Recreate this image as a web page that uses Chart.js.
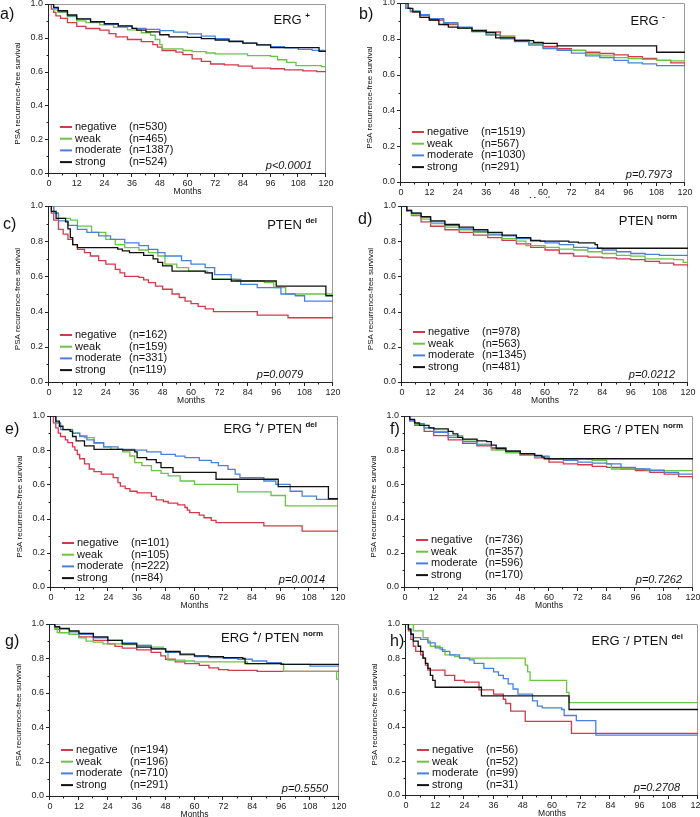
<!DOCTYPE html>
<html>
<head>
<meta charset="utf-8">
<script src="https://cdn.jsdelivr.net/npm/chart.js@4.4.1/dist/chart.umd.min.js"></script>
<style>
  html, body { margin: 0; padding: 0; background: #fff; }
  #fig { position: relative; width: 700px; height: 817px; overflow: hidden; }
  #fig canvas { position: absolute; background: #fff; }
</style>
</head>
<body>
<div id="fig"></div>
<script>
// categories + axis ticks
const GROUPS = ["negative", "weak", "moderate", "strong"];
const X_TICKS = [0, 12, 24, 36, 48, 60, 72, 84, 96, 108, 120];
const Y_TICKS = [0, 0.2, 0.4, 0.6, 0.8, 1.0];

// Kaplan-Meier curves as [month, survival]
// a) ERG+
const A_NEG = [[0,1],[1,0.97],[2,0.95],[3,0.93],[5,0.915],[8,0.89],[12,0.868],[16,0.855],[22,0.845],[26,0.825],[29,0.805],[34,0.79],[40,0.777],[45,0.76],[47,0.745],[49,0.725],[55,0.715],[58,0.7],[62,0.675],[66,0.66],[70,0.645],[76,0.64],[82,0.632],[88,0.62],[96,0.617],[102,0.61],[110,0.604],[116,0.6],[120,0.598]];
const A_WEAK = [[0,1],[2,0.965],[4,0.95],[8,0.925],[12,0.9],[16,0.89],[22,0.876],[28,0.862],[34,0.847],[40,0.83],[44,0.815],[46,0.79],[48,0.76],[49,0.735],[58,0.725],[62,0.718],[68,0.71],[72,0.705],[86,0.695],[96,0.69],[99,0.67],[103,0.655],[107,0.635],[118,0.63],[120,0.615]];
const A_MOD = [[0,1],[2,0.975],[4,0.955],[8,0.93],[12,0.91],[18,0.895],[24,0.88],[30,0.868],[36,0.856],[42,0.85],[48,0.843],[54,0.833],[60,0.823],[66,0.81],[72,0.795],[78,0.78],[84,0.768],[90,0.758],[96,0.748],[102,0.74],[108,0.732],[114,0.726],[120,0.72]];
const A_STR = [[0,1],[2,0.98],[4,0.96],[8,0.935],[12,0.912],[18,0.895],[24,0.883],[30,0.87],[36,0.856],[38,0.845],[42,0.835],[48,0.818],[52,0.805],[60,0.803],[66,0.795],[72,0.787],[78,0.778],[84,0.768],[90,0.758],[96,0.742],[116,0.742],[117,0.72],[120,0.72]];
// b) ERG-
const B_NEG = [[0,1],[2,0.97],[4,0.95],[8,0.93],[12,0.905],[18,0.88],[24,0.86],[30,0.848],[36,0.838],[42,0.815],[48,0.795],[54,0.775],[60,0.757],[66,0.745],[72,0.735],[78,0.725],[84,0.718],[90,0.71],[96,0.7],[102,0.69],[108,0.68],[114,0.665],[120,0.655]];
const B_WEAK = [[0,1],[2,0.97],[4,0.955],[8,0.935],[12,0.91],[18,0.885],[24,0.86],[30,0.84],[36,0.825],[42,0.81],[48,0.795],[54,0.77],[60,0.75],[66,0.74],[72,0.735],[78,0.715],[84,0.705],[90,0.695],[96,0.69],[102,0.685],[108,0.68],[114,0.677],[120,0.675]];
const B_MOD = [[0,1],[2,0.97],[4,0.955],[8,0.935],[12,0.912],[18,0.89],[24,0.865],[30,0.84],[36,0.82],[42,0.8],[48,0.785],[54,0.765],[60,0.745],[66,0.735],[72,0.72],[78,0.705],[84,0.695],[90,0.68],[96,0.665],[102,0.66],[108,0.65],[120,0.648]];
const B_STR = [[0,1],[3,0.97],[5,0.95],[8,0.92],[12,0.905],[16,0.88],[20,0.865],[24,0.86],[30,0.845],[36,0.835],[40,0.805],[48,0.79],[56,0.78],[60,0.775],[66,0.76],[107,0.76],[108,0.725],[120,0.725]];
// c) PTEN del
const C_NEG = [[0,1],[1,0.96],[2,0.92],[4,0.867],[6,0.84],[8,0.81],[10,0.78],[12,0.754],[15,0.735],[17.5,0.716],[21,0.69],[24,0.67],[28,0.64],[30,0.62],[32,0.6],[38,0.595],[40,0.58],[42,0.565],[45,0.545],[48,0.527],[52,0.5],[55,0.48],[57.5,0.46],[60,0.445],[63,0.43],[66,0.415],[69.5,0.4],[88,0.38],[101,0.365],[120,0.365]];
const C_WEAK = [[0,1],[2,0.96],[4,0.93],[9,0.92],[12,0.886],[18,0.85],[24,0.81],[28,0.78],[32,0.763],[38,0.75],[42,0.735],[46,0.716],[49,0.67],[54,0.65],[59,0.63],[67,0.62],[69,0.585],[79,0.575],[91,0.565],[95,0.536],[100,0.5],[120,0.495]];
const C_MOD = [[0,1],[2,0.96],[4,0.915],[8,0.89],[12,0.867],[16,0.85],[21,0.83],[26,0.81],[32,0.79],[38,0.775],[42,0.754],[46,0.735],[49,0.716],[56,0.69],[60,0.67],[66,0.65],[70,0.61],[77,0.583],[81,0.555],[88,0.536],[98,0.5],[104,0.49],[108,0.46],[120,0.46]];
const C_STR = [[0,1],[1,0.97],[3,0.93],[7,0.91],[8,0.87],[9,0.82],[10,0.78],[12,0.763],[29,0.755],[31,0.745],[34,0.735],[40,0.72],[44,0.7],[46,0.68],[48,0.66],[52,0.63],[66,0.62],[69,0.583],[77,0.574],[95,0.574],[96,0.545],[116,0.545],[117,0.49],[120,0.49]];
// d) PTEN norm
const D_NEG = [[0,1],[2,0.97],[4,0.945],[8,0.91],[12,0.885],[18,0.865],[24,0.85],[30,0.835],[36,0.82],[42,0.805],[48,0.785],[54,0.765],[60,0.75],[66,0.73],[72,0.715],[78,0.71],[84,0.705],[90,0.7],[96,0.695],[102,0.685],[108,0.675],[114,0.665],[120,0.652]];
const D_WEAK = [[0,1],[2,0.97],[4,0.95],[8,0.925],[12,0.9],[18,0.88],[24,0.865],[30,0.85],[36,0.835],[42,0.815],[48,0.8],[52,0.775],[60,0.765],[66,0.755],[72,0.75],[78,0.74],[84,0.73],[90,0.72],[96,0.715],[102,0.7],[114,0.695],[118,0.68],[120,0.678]];
const D_MOD = [[0,1],[2,0.975],[4,0.96],[8,0.935],[12,0.91],[18,0.89],[24,0.87],[30,0.855],[36,0.84],[42,0.83],[48,0.815],[54,0.8],[60,0.79],[66,0.78],[72,0.765],[78,0.76],[84,0.75],[90,0.74],[96,0.73],[102,0.725],[108,0.72],[120,0.716]];
const D_STR = [[0,1],[2,0.975],[4,0.96],[8,0.94],[12,0.915],[18,0.895],[24,0.88],[30,0.865],[36,0.85],[42,0.835],[48,0.82],[54,0.805],[58,0.8],[70,0.795],[74,0.79],[81,0.78],[82,0.76],[120,0.76]];
// e) ERG+/PTEN del
const E_NEG = [[0,1],[1,0.96],[2,0.93],[3,0.9],[4,0.88],[6,0.86],[7,0.844],[9,0.82],[10,0.8],[11,0.775],[12,0.75],[14,0.72],[16,0.69],[18,0.675],[21,0.66],[26,0.64],[28,0.61],[29,0.59],[31,0.575],[33,0.56],[36,0.55],[42,0.53],[44,0.51],[47,0.5],[49,0.49],[53,0.48],[56,0.465],[57,0.45],[58,0.435],[62,0.42],[64,0.405],[67,0.39],[69,0.376],[89,0.357],[105,0.327],[120,0.327]];
const E_WEAK = [[0,1],[2,0.96],[4,0.922],[9,0.9],[12,0.88],[14,0.873],[18,0.84],[22,0.82],[25,0.805],[30,0.79],[33,0.766],[35,0.727],[38,0.71],[42,0.68],[46,0.665],[49,0.65],[54,0.62],[60,0.6],[78,0.556],[92,0.535],[98,0.474],[120,0.474]];
const E_MOD = [[0,1],[2,0.96],[4,0.92],[9,0.9],[12,0.883],[15,0.86],[18,0.844],[22,0.82],[28,0.805],[35,0.8],[40,0.79],[46,0.776],[52,0.765],[56,0.756],[62,0.74],[67,0.727],[70,0.71],[74,0.688],[77,0.66],[79,0.64],[89,0.62],[94,0.6],[100,0.56],[105,0.532],[111,0.513],[120,0.513]];
const E_STR = [[0,1],[2,0.97],[3.5,0.94],[5,0.92],[8,0.91],[9,0.88],[10.5,0.854],[14,0.825],[18,0.805],[30,0.8],[35,0.79],[36,0.756],[40,0.745],[44,0.727],[46,0.698],[51,0.67],[69,0.63],[95,0.587],[116,0.516],[120,0.516]];
// f) ERG-/PTEN norm
const F_NEG = [[0,1],[2,0.97],[4,0.945],[8,0.91],[12,0.885],[18,0.86],[24,0.84],[30,0.825],[36,0.81],[42,0.795],[48,0.775],[54,0.755],[60,0.73],[66,0.72],[72,0.715],[78,0.705],[84,0.7],[90,0.69],[96,0.68],[102,0.67],[108,0.66],[114,0.645],[120,0.63]];
const F_WEAK = [[0,1],[2,0.97],[4,0.95],[8,0.93],[12,0.91],[18,0.885],[24,0.86],[30,0.835],[36,0.8],[42,0.785],[48,0.77],[54,0.76],[60,0.75],[76,0.748],[78,0.74],[84,0.72],[86,0.69],[100,0.685],[108,0.68],[120,0.68]];
const F_MOD = [[0,1],[2,0.975],[4,0.955],[8,0.93],[12,0.905],[18,0.875],[24,0.85],[30,0.83],[36,0.815],[42,0.795],[48,0.78],[54,0.765],[60,0.75],[66,0.74],[72,0.73],[78,0.725],[84,0.72],[90,0.7],[96,0.69],[102,0.68],[108,0.67],[114,0.66],[120,0.655]];
const F_STR = [[0,1],[2,0.98],[4,0.96],[6,0.945],[10,0.93],[12,0.925],[18,0.91],[20,0.895],[22,0.875],[24,0.865],[30,0.855],[34,0.85],[36,0.83],[38,0.81],[42,0.795],[48,0.78],[54,0.77],[57,0.76],[58,0.75],[120,0.75]];
// g) ERG+/PTEN norm
const G_NEG = [[0,1],[2,0.97],[4,0.95],[8,0.94],[12,0.925],[18,0.905],[24,0.885],[27,0.87],[30,0.86],[36,0.85],[42,0.835],[46,0.815],[48,0.795],[52,0.78],[56,0.77],[62,0.76],[66,0.745],[70,0.735],[74,0.73],[84,0.73],[86,0.725],[120,0.725]];
const G_WEAK = [[0,1],[2,0.975],[3,0.95],[8,0.94],[12,0.92],[15,0.9],[18,0.895],[22,0.885],[30,0.88],[36,0.875],[42,0.865],[47,0.855],[48,0.835],[49,0.79],[56,0.785],[60,0.78],[80,0.78],[82,0.77],[96,0.77],[97,0.725],[118,0.725],[119,0.68],[120,0.68]];
const G_MOD = [[0,1],[2,0.98],[4,0.97],[8,0.955],[12,0.94],[18,0.92],[24,0.905],[30,0.89],[36,0.875],[42,0.855],[48,0.835],[54,0.82],[60,0.81],[66,0.805],[72,0.8],[78,0.795],[84,0.785],[90,0.775],[96,0.765],[102,0.765],[108,0.755],[120,0.755]];
const G_STR = [[0,1],[2,0.985],[4,0.975],[8,0.96],[12,0.945],[18,0.925],[24,0.905],[30,0.885],[36,0.865],[42,0.855],[48,0.84],[54,0.825],[60,0.815],[66,0.81],[72,0.805],[80,0.8],[81,0.77],[96,0.765],[120,0.765]];
// h) ERG-/PTEN del
const H_NEG = [[0,1],[1,0.96],[2,0.91],[3,0.87],[4,0.84],[6,0.82],[7,0.8],[8,0.76],[9,0.73],[16,0.7],[20,0.67],[24,0.66],[30,0.615],[36,0.59],[40,0.56],[41,0.535],[43,0.49],[49,0.43],[68,0.36],[120,0.36]];
const H_WEAK = [[0,1],[2,1],[3,0.96],[6,0.96],[7,0.92],[9,0.9],[10,0.87],[14,0.85],[16,0.82],[20,0.81],[22,0.8],[48,0.8],[49,0.76],[50,0.72],[51,0.67],[65,0.67],[66,0.6],[67,0.54],[120,0.54]];
const H_MOD = [[0,1],[1,0.97],[2,0.94],[3,0.92],[6,0.91],[9,0.89],[12,0.86],[15,0.84],[18,0.82],[22,0.8],[26,0.79],[28,0.77],[32,0.74],[36,0.72],[38,0.7],[40,0.68],[42,0.65],[44,0.62],[46,0.59],[52,0.55],[54,0.52],[56,0.51],[64,0.5],[65,0.465],[70,0.435],[78,0.35],[120,0.35]];
const H_STR = [[0,1],[1,0.97],[2,0.94],[3,0.9],[5,0.87],[6,0.84],[7,0.8],[8,0.77],[9,0.74],[10,0.7],[11,0.67],[12,0.63],[30,0.63],[31,0.58],[66,0.58],[67,0.5],[120,0.5]];

// group sizes and p values
const A_N = [530, 465, 1387, 524];
const B_N = [1519, 567, 1030, 291];
const C_N = [162, 159, 331, 119];
const D_N = [978, 563, 1345, 481];
const E_N = [101, 105, 222, 84];
const F_N = [736, 357, 596, 170];
const G_N = [194, 196, 710, 291];
const H_N = [56, 52, 99, 31];
const P_VALUES = ["p<0.0001", "p=0.7973", "p=0.0079", "p=0.0212", "p=0.0014", "p=0.7262", "p=0.5550", "p=0.2708"];

const COLORS = ["#d23a4c", "#6cc443", "#4a80dc", "#111111"];
const FONT = '"Liberation Sans", Arial, Helvetica, sans-serif';

// layout: plot box (L,T,R,B) in page pixels + label offsets
const PANELS = [
  { letter: "a)", lx: 0, ly: 15, L: 49, T: 4, R: 326, B: 173, tr: 16, tb: 20, pr: 14, lg: 46,
    title: [["ERG ", 0], ["+", 1]], series: [A_NEG, A_WEAK, A_MOD, A_STR], n: A_N },
  { letter: "b)", lx: 359, ly: 15, L: 401, T: 3, R: 685, B: 182, tr: 20, tb: 22, pr: 13, lg: 50,
    title: [["ERG ", 0], ["-", 1]], series: [B_NEG, B_WEAK, B_MOD, B_STR], n: B_N },
  { letter: "c)", lx: 3, ly: 225, L: 49, T: 206, R: 333, B: 382, tr: 16, tb: 23, pr: 30, lg: 47,
    title: [["PTEN ", 0], ["del", 1]], series: [C_NEG, C_WEAK, C_MOD, C_STR], n: C_N },
  { letter: "d)", lx: 358, ly: 220, L: 402, T: 206, R: 688, B: 382, tr: 11, tb: 19, pr: 13, lg: 50,
    title: [["PTEN ", 0], ["norm", 1]], series: [D_NEG, D_WEAK, D_MOD, D_STR], n: D_N },
  { letter: "e)", lx: 5, ly: 430, L: 51, T: 416, R: 338, B: 587, tr: 21, tb: 17, pr: 13, lg: 44,
    title: [["ERG ", 0], ["+", 1], ["/ PTEN ", 0], ["del", 1]], series: [E_NEG, E_WEAK, E_MOD, E_STR], n: E_N },
  { letter: "f)", lx: 390, ly: 430, L: 405, T: 416, R: 693, B: 587, tr: 10, tb: 18, pr: 11, lg: 47,
    title: [["ERG ", 0], ["-", 1], ["/ PTEN ", 0], ["norm", 1]], series: [F_NEG, F_WEAK, F_MOD, F_STR], n: F_N },
  { letter: "g)", lx: 5, ly: 642, L: 50, T: 624, R: 339, B: 796, tr: 16, tb: 18, pr: 11, lg: 46,
    title: [["ERG ", 0], ["+", 1], ["/ PTEN ", 0], ["norm", 1]], series: [G_NEG, G_WEAK, G_MOD, G_STR], n: G_N },
  { letter: "h)", lx: 390, ly: 642, L: 406, T: 624, R: 698, B: 795, tr: 15, tb: 21, pr: 18, lg: 45,
    title: [["ERG ", 0], ["-", 1], ["/ PTEN ", 0], ["del", 1]], series: [H_NEG, H_WEAK, H_MOD, H_STR], n: H_N }
];

const PAD_L = 52, PAD_T = 8, PAD_R = 10, PAD_B = 36;

function decorPlugin(panel, p, left, top) {
  return {
    id: "kmDecor",
    beforeDatasetsDraw(chart) {
      const { ctx, chartArea: a } = chart;
      ctx.save();
      ctx.lineWidth = 1;
      ctx.strokeStyle = "#9a9a9a";
      ctx.beginPath();
      ctx.moveTo(a.left, a.top + 0.5);
      ctx.lineTo(a.right - 0.5, a.top + 0.5);
      ctx.lineTo(a.right - 0.5, a.bottom);
      ctx.stroke();
      ctx.strokeStyle = "#222";
      ctx.beginPath();
      ctx.moveTo(a.left - 0.5, a.top);
      ctx.lineTo(a.left - 0.5, a.bottom + 0.5);
      ctx.lineTo(a.right, a.bottom + 0.5);
      ctx.stroke();
      ctx.restore();
    },
    afterDraw(chart) {
      const { ctx, chartArea: a, scales } = chart;
      ctx.save();
      // axis tick marks, major + minor
      ctx.strokeStyle = "#222";
      ctx.lineWidth = 1;
      ctx.beginPath();
      for (let m = 0; m <= 120; m += 6) {
        const x = Math.round(scales.x.getPixelForValue(m)) - 0.5;
        ctx.moveTo(x, a.bottom);
        ctx.lineTo(x, a.bottom + (m % 12 === 0 ? 4 : 2.5));
      }
      for (let k = 0; k <= 10; k++) {
        const y = Math.round(scales.y.getPixelForValue(k / 10)) + 0.5;
        ctx.moveTo(a.left, y);
        ctx.lineTo(a.left - (k % 2 === 0 ? 4 : 2.5), y);
      }
      ctx.stroke();

      ctx.fillStyle = "#111";
      // x axis title
      ctx.font = "8.5px " + FONT;
      ctx.textAlign = "center";
      ctx.textBaseline = "middle";
      ctx.fillText("Months", (a.left + a.right) / 2, a.bottom + 19);
      // y axis title
      ctx.save();
      ctx.translate(a.left - 31, (a.top + a.bottom) / 2 + 5);
      ctx.rotate(-Math.PI / 2);
      ctx.font = "8px " + FONT;
      ctx.fillText("PSA recurrence-free survival", 0, 0);
      ctx.restore();
      // panel letter
      ctx.font = "16px " + FONT;
      ctx.textAlign = "left";
      ctx.fillText(panel.letter, panel.lx - left, panel.ly - top);

      // title with superscripts, right aligned
      ctx.textBaseline = "alphabetic";
      const bigF = "13px " + FONT, supF = "bold 8px " + FONT;
      let w = 0;
      panel.title.forEach(([t, s]) => { ctx.font = s ? supF : bigF; w += ctx.measureText(t).width; });
      let tx = a.right - panel.tr - w;
      const ty = a.top + panel.tb;
      panel.title.forEach(([t, s]) => {
        ctx.font = s ? supF : bigF;
        ctx.fillText(t, tx, s ? ty - 6 : ty);
        tx += ctx.measureText(t).width;
      });

      // legend
      ctx.font = "11px " + FONT;
      ctx.textBaseline = "middle";
      GROUPS.forEach((g, i) => {
        const y = a.bottom - panel.lg + i * 11.7;
        ctx.strokeStyle = COLORS[i];
        ctx.lineWidth = 2;
        ctx.beginPath();
        ctx.moveTo(a.left + 11, y);
        ctx.lineTo(a.left + 23, y);
        ctx.stroke();
        ctx.fillText(g, a.left + 26, y);
        ctx.fillText("(n=" + panel.n[i] + ")", a.left + 80, y);
      });

      // p value
      ctx.font = "italic 11px " + FONT;
      ctx.textAlign = "right";
      ctx.fillText(P_VALUES[p], a.right - panel.pr, a.bottom - 7);
      ctx.restore();
    }
  };
}

const fig = document.getElementById("fig");

PANELS.forEach((panel, p) => {
  const left = panel.L - PAD_L;
  const top = panel.T - PAD_T;
  const canvas = document.createElement("canvas");
  canvas.width = panel.R - panel.L + PAD_L + PAD_R;
  canvas.height = panel.B - panel.T + PAD_T + PAD_B;
  canvas.style.left = left + "px";
  canvas.style.top = top + "px";
  fig.appendChild(canvas);

  new Chart(canvas, {
    type: "line",
    data: {
      datasets: panel.series.map((pts, i) => ({
        label: GROUPS[i],
        data: pts.map(([m, s]) => ({ x: m, y: s })),
        stepped: "before",
        borderColor: COLORS[i],
        borderWidth: 1.3,
        pointRadius: 0,
        fill: false,
        order: 3 - i
      }))
    },
    options: {
      responsive: false,
      animation: false,
      devicePixelRatio: 1,
      layout: { padding: { left: 0, top: PAD_T, right: PAD_R, bottom: 0 } },
      plugins: { legend: { display: false }, tooltip: { enabled: false } },
      scales: {
        x: {
          type: "linear",
          min: 0,
          max: 120,
          afterBuildTicks: (s) => { s.ticks = X_TICKS.map((v) => ({ value: v })); },
          afterFit: (s) => { s.height = PAD_B; },
          grid: { display: false, drawTicks: true, tickLength: 4 },
          border: { display: false },
          ticks: { color: "#222", font: { size: 9, family: FONT }, padding: 1, maxRotation: 0, autoSkip: false }
        },
        y: {
          min: 0,
          max: 1,
          afterBuildTicks: (s) => { s.ticks = Y_TICKS.map((v) => ({ value: v })); },
          afterFit: (s) => { s.width = PAD_L; },
          grid: { display: false, drawTicks: true, tickLength: 4 },
          border: { display: false },
          ticks: { color: "#222", font: { size: 9, family: FONT }, padding: 2, callback: (v) => Number(v).toFixed(1) }
        }
      }
    },
    plugins: [decorPlugin(panel, p, left, top)]
  });
});
</script>
</body>
</html>
